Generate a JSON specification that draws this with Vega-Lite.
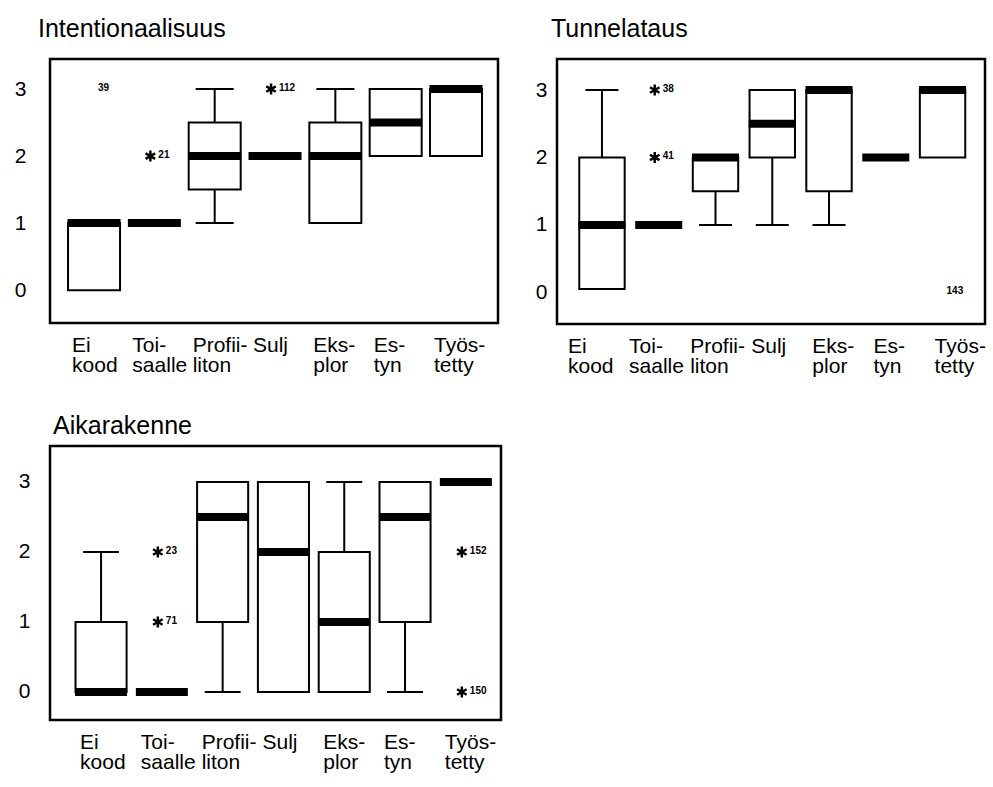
{
  "$schema": "https://vega.github.io/schema/vega-lite/v6.json",
  "padding": {"left": 13, "top": 15, "right": 0, "bottom": 0},
  "background": "white",
  "config": {
    "font": "Liberation Sans",
    "view": {"stroke": "black", "strokeWidth": 2.5},
    "axis": {"labelFont": "Liberation Sans", "labelColor": "black", "labelFontSize": 21, "domain": false, "ticks": false, "grid": false},
    "title": {"font": "Liberation Sans", "fontSize": 25, "fontWeight": "normal", "anchor": "start", "frame": "group", "color": "black", "baseline": "alphabetic"}
  },
  "datasets": {
    "boxes": [
      {"panel": "Intentionaalisuus", "cat": "Ei kood", "lo": null, "q1": 0, "med": 1, "q3": 1, "hi": null},
      {"panel": "Intentionaalisuus", "cat": "Toi- saalle", "lo": null, "q1": 1, "med": 1, "q3": 1, "hi": null},
      {"panel": "Intentionaalisuus", "cat": "Profii- liton", "lo": 1, "q1": 1.5, "med": 2, "q3": 2.5, "hi": 3},
      {"panel": "Intentionaalisuus", "cat": "Sulj", "lo": null, "q1": 2, "med": 2, "q3": 2, "hi": null},
      {"panel": "Intentionaalisuus", "cat": "Eks- plor", "lo": null, "q1": 1, "med": 2, "q3": 2.5, "hi": 3},
      {"panel": "Intentionaalisuus", "cat": "Es- tyn", "lo": null, "q1": 2, "med": 2.5, "q3": 3, "hi": null},
      {"panel": "Intentionaalisuus", "cat": "Työs- tetty", "lo": null, "q1": 2, "med": 3, "q3": 3, "hi": null},
      {"panel": "Tunnelataus", "cat": "Ei kood", "lo": null, "q1": 0.05, "med": 1, "q3": 2, "hi": 3},
      {"panel": "Tunnelataus", "cat": "Toi- saalle", "lo": null, "q1": 1, "med": 1, "q3": 1, "hi": null},
      {"panel": "Tunnelataus", "cat": "Profii- liton", "lo": 1, "q1": 1.5, "med": 2, "q3": 2, "hi": null},
      {"panel": "Tunnelataus", "cat": "Sulj", "lo": 1, "q1": 2, "med": 2.5, "q3": 3, "hi": null},
      {"panel": "Tunnelataus", "cat": "Eks- plor", "lo": 1, "q1": 1.5, "med": 3, "q3": 3, "hi": null},
      {"panel": "Tunnelataus", "cat": "Es- tyn", "lo": null, "q1": 2, "med": 2, "q3": 2, "hi": null},
      {"panel": "Tunnelataus", "cat": "Työs- tetty", "lo": null, "q1": 2, "med": 3, "q3": 3, "hi": null},
      {"panel": "Aikarakenne", "cat": "Ei kood", "lo": null, "q1": 0, "med": 0, "q3": 1, "hi": 2},
      {"panel": "Aikarakenne", "cat": "Toi- saalle", "lo": null, "q1": 0, "med": 0, "q3": 0, "hi": null},
      {"panel": "Aikarakenne", "cat": "Profii- liton", "lo": 0, "q1": 1, "med": 2.5, "q3": 3, "hi": null},
      {"panel": "Aikarakenne", "cat": "Sulj", "lo": null, "q1": 0, "med": 2, "q3": 3, "hi": null},
      {"panel": "Aikarakenne", "cat": "Eks- plor", "lo": null, "q1": 0, "med": 1, "q3": 2, "hi": 3},
      {"panel": "Aikarakenne", "cat": "Es- tyn", "lo": 0, "q1": 1, "med": 2.5, "q3": 3, "hi": null},
      {"panel": "Aikarakenne", "cat": "Työs- tetty", "lo": null, "q1": 3, "med": 3, "q3": 3, "hi": null}
    ],
    "outliers": [
      {"panel": "Intentionaalisuus", "cat": "Ei kood", "value": 3, "id": "39", "star": false},
      {"panel": "Intentionaalisuus", "cat": "Toi- saalle", "value": 2, "id": "21", "star": true},
      {"panel": "Intentionaalisuus", "cat": "Sulj", "value": 3, "id": "112", "star": true},
      {"panel": "Tunnelataus", "cat": "Toi- saalle", "value": 3, "id": "38", "star": true},
      {"panel": "Tunnelataus", "cat": "Toi- saalle", "value": 2, "id": "41", "star": true},
      {"panel": "Tunnelataus", "cat": "Työs- tetty", "value": 0, "id": "143", "star": false},
      {"panel": "Aikarakenne", "cat": "Toi- saalle", "value": 2, "id": "23", "star": true},
      {"panel": "Aikarakenne", "cat": "Toi- saalle", "value": 1, "id": "71", "star": true},
      {"panel": "Aikarakenne", "cat": "Työs- tetty", "value": 2, "id": "152", "star": true},
      {"panel": "Aikarakenne", "cat": "Työs- tetty", "value": 0, "id": "150", "star": true}
    ]
  },
  "spacing": 34,
  "vconcat": [
    {
      "spacing": 34,
      "hconcat": [
        {
          "title": {"text": "Intentionaalisuus", "dx": -12, "offset": 17},
          "width": 448, "height": 264,
          "encoding": {
            "x": {"field": "cat", "type": "nominal", "title": null,
              "scale": {"domain": ["Ei kood", "Toi- saalle", "Profii- liton", "Sulj", "Eks- plor", "Es- tyn", "Työs- tetty"], "paddingInner": 0.138, "paddingOuter": 0.282, "align": 0.53},
              "axis": {"labelAngle": 0, "labelAlign": "left", "labelOffset": -22, "labelBaseline": "top", "labelPadding": 11, "labelLineHeight": 20, "labelExpr": "split(datum.label, ' ')", "labelOverlap": false, "labelBound": false, "labelFlush": false}}
          },
          "layer": [
            {
              "data": {"name": "boxes"},
              "transform": [{"filter": "datum.panel === 'Intentionaalisuus'"}],
              "layer": [
                {"mark": {"type": "rule", "color": "black", "strokeWidth": 2, "opacity": 1},
                 "encoding": {"y": {"field": "lo", "type": "quantitative", "title": null, "scale": {"domain": [-0.49, 3.448], "nice": false, "zero": false}, "axis": {"values": [0, 1, 2, 3], "format": "d", "labelPadding": 24, "title": null}}, "y2": {"field": "q1"}}},
                {"mark": {"type": "rule", "color": "black", "strokeWidth": 2, "opacity": 1},
                 "encoding": {"y": {"field": "q3", "type": "quantitative", "title": null, "scale": {"domain": [-0.49, 3.448], "nice": false, "zero": false}}, "y2": {"field": "hi"}}},
                {"mark": {"type": "tick", "color": "black", "thickness": 2, "size": 38, "opacity": 1},
                 "encoding": {"y": {"field": "lo", "type": "quantitative", "title": null, "scale": {"domain": [-0.49, 3.448], "nice": false, "zero": false}}}},
                {"mark": {"type": "tick", "color": "black", "thickness": 2, "size": 38, "opacity": 1},
                 "encoding": {"y": {"field": "hi", "type": "quantitative", "title": null, "scale": {"domain": [-0.49, 3.448], "nice": false, "zero": false}}}},
                {"mark": {"type": "bar", "fill": "white", "stroke": "black", "strokeWidth": 2, "opacity": 1},
                 "encoding": {"y": {"field": "q1", "type": "quantitative", "title": null, "scale": {"domain": [-0.49, 3.448], "nice": false, "zero": false}}, "y2": {"field": "q3"}}},
                {"mark": {"type": "tick", "color": "black", "thickness": 8, "size": 53, "opacity": 1},
                 "encoding": {"y": {"field": "med", "type": "quantitative", "title": null, "scale": {"domain": [-0.49, 3.448], "nice": false, "zero": false}}}}
              ]
            },
            {
              "data": {"name": "outliers"},
              "transform": [{"filter": "datum.panel === 'Intentionaalisuus'"}],
              "layer": [
                {"transform": [{"filter": "datum.star"}],
                 "mark": {"type": "point", "shape": "M0,-1L0,1M-0.87,-0.5L0.87,0.5M-0.87,0.5L0.87,-0.5", "filled": false, "stroke": "black", "strokeWidth": 2.5, "size": 120, "xOffset": -4, "opacity": 1},
                 "encoding": {"y": {"field": "value", "type": "quantitative", "title": null, "scale": {"domain": [-0.49, 3.448], "nice": false, "zero": false}}}},
                {"mark": {"type": "text", "align": "left", "baseline": "middle", "dx": 4, "dy": -1, "fontSize": 10, "fontWeight": "bold", "color": "black"},
                 "encoding": {"y": {"field": "value", "type": "quantitative", "title": null, "scale": {"domain": [-0.49, 3.448], "nice": false, "zero": false}}, "text": {"field": "id"}}}
              ]
            }
          ]
        },
        {
          "title": {"text": "Tunnelataus", "dx": -6, "offset": 17},
          "width": 428, "height": 265,
          "encoding": {
            "x": {"field": "cat", "type": "nominal", "title": null,
              "scale": {"domain": ["Ei kood", "Toi- saalle", "Profii- liton", "Sulj", "Eks- plor", "Es- tyn", "Työs- tetty"], "paddingInner": 0.2, "paddingOuter": 0.37, "align": 0.53},
              "axis": {"labelAngle": 0, "labelAlign": "left", "labelOffset": {"condition": {"test": "true", "expr": "-34 + 26 * datum.index"}, "value": -20}, "labelBaseline": "top", "labelPadding": 11, "labelLineHeight": 20, "labelExpr": "split(datum.label, ' ')", "labelOverlap": false, "labelBound": false, "labelFlush": false}}
          },
          "layer": [
            {
              "data": {"name": "boxes"},
              "transform": [{"filter": "datum.panel === 'Tunnelataus'"}],
              "layer": [
                {"mark": {"type": "rule", "color": "black", "strokeWidth": 2, "opacity": 1},
                 "encoding": {"y": {"field": "lo", "type": "quantitative", "title": null, "scale": {"domain": [-0.47, 3.46], "nice": false, "zero": false}, "axis": {"values": [0, 1, 2, 3], "format": "d", "labelPadding": 10, "title": null}}, "y2": {"field": "q1"}}},
                {"mark": {"type": "rule", "color": "black", "strokeWidth": 2, "opacity": 1},
                 "encoding": {"y": {"field": "q3", "type": "quantitative", "title": null, "scale": {"domain": [-0.47, 3.46], "nice": false, "zero": false}}, "y2": {"field": "hi"}}},
                {"mark": {"type": "tick", "color": "black", "thickness": 2, "size": 33, "opacity": 1},
                 "encoding": {"y": {"field": "lo", "type": "quantitative", "title": null, "scale": {"domain": [-0.47, 3.46], "nice": false, "zero": false}}}},
                {"mark": {"type": "tick", "color": "black", "thickness": 2, "size": 33, "opacity": 1},
                 "encoding": {"y": {"field": "hi", "type": "quantitative", "title": null, "scale": {"domain": [-0.47, 3.46], "nice": false, "zero": false}}}},
                {"mark": {"type": "bar", "fill": "white", "stroke": "black", "strokeWidth": 2, "opacity": 1},
                 "encoding": {"y": {"field": "q1", "type": "quantitative", "title": null, "scale": {"domain": [-0.47, 3.46], "nice": false, "zero": false}}, "y2": {"field": "q3"}}},
                {"mark": {"type": "tick", "color": "black", "thickness": 8, "size": 47, "opacity": 1},
                 "encoding": {"y": {"field": "med", "type": "quantitative", "title": null, "scale": {"domain": [-0.47, 3.46], "nice": false, "zero": false}}}}
              ]
            },
            {
              "data": {"name": "outliers"},
              "transform": [{"filter": "datum.panel === 'Tunnelataus'"}],
              "layer": [
                {"transform": [{"filter": "datum.star"}],
                 "mark": {"type": "point", "shape": "M0,-1L0,1M-0.87,-0.5L0.87,0.5M-0.87,0.5L0.87,-0.5", "filled": false, "stroke": "black", "strokeWidth": 2.5, "size": 120, "xOffset": -4, "opacity": 1},
                 "encoding": {"y": {"field": "value", "type": "quantitative", "title": null, "scale": {"domain": [-0.47, 3.46], "nice": false, "zero": false}}}},
                {"mark": {"type": "text", "align": "left", "baseline": "middle", "dx": 4, "dy": -1, "fontSize": 10, "fontWeight": "bold", "color": "black"},
                 "encoding": {"y": {"field": "value", "type": "quantitative", "title": null, "scale": {"domain": [-0.47, 3.46], "nice": false, "zero": false}}, "text": {"field": "id"}}}
              ]
            }
          ]
        }
      ]
    },
    {
      "title": {"text": "Aikarakenne", "dx": 3, "offset": 7},
      "width": 451, "height": 274,
      "encoding": {
        "x": {"field": "cat", "type": "nominal", "title": null,
          "scale": {"domain": ["Ei kood", "Toi- saalle", "Profii- liton", "Sulj", "Eks- plor", "Es- tyn", "Työs- tetty"], "paddingInner": 0.16, "paddingOuter": 0.289, "align": 0.726},
          "axis": {"labelAngle": 0, "labelAlign": "left", "labelOffset": -21, "labelBaseline": "top", "labelPadding": 11, "labelLineHeight": 20, "labelExpr": "split(datum.label, ' ')", "labelOverlap": false, "labelBound": false, "labelFlush": false}}
      },
      "layer": [
        {
          "data": {"name": "boxes"},
          "transform": [{"filter": "datum.panel === 'Aikarakenne'"}],
          "layer": [
            {"mark": {"type": "rule", "color": "black", "strokeWidth": 2, "opacity": 1},
             "encoding": {"y": {"field": "lo", "type": "quantitative", "title": null, "scale": {"domain": [-0.4, 3.514], "nice": false, "zero": false}, "axis": {"values": [0, 1, 2, 3], "format": "d", "labelPadding": 20, "title": null}}, "y2": {"field": "q1"}}},
            {"mark": {"type": "rule", "color": "black", "strokeWidth": 2, "opacity": 1},
             "encoding": {"y": {"field": "q3", "type": "quantitative", "title": null, "scale": {"domain": [-0.4, 3.514], "nice": false, "zero": false}}, "y2": {"field": "hi"}}},
            {"mark": {"type": "tick", "color": "black", "thickness": 2, "size": 36, "opacity": 1},
             "encoding": {"y": {"field": "lo", "type": "quantitative", "title": null, "scale": {"domain": [-0.4, 3.514], "nice": false, "zero": false}}}},
            {"mark": {"type": "tick", "color": "black", "thickness": 2, "size": 36, "opacity": 1},
             "encoding": {"y": {"field": "hi", "type": "quantitative", "title": null, "scale": {"domain": [-0.4, 3.514], "nice": false, "zero": false}}}},
            {"mark": {"type": "bar", "fill": "white", "stroke": "black", "strokeWidth": 2, "opacity": 1},
             "encoding": {"y": {"field": "q1", "type": "quantitative", "title": null, "scale": {"domain": [-0.4, 3.514], "nice": false, "zero": false}}, "y2": {"field": "q3"}}},
            {"mark": {"type": "tick", "color": "black", "thickness": 8, "size": 52, "opacity": 1},
             "encoding": {"y": {"field": "med", "type": "quantitative", "title": null, "scale": {"domain": [-0.4, 3.514], "nice": false, "zero": false}}}}
          ]
        },
        {
          "data": {"name": "outliers"},
          "transform": [{"filter": "datum.panel === 'Aikarakenne'"}],
          "layer": [
            {"transform": [{"filter": "datum.star"}],
             "mark": {"type": "point", "shape": "M0,-1L0,1M-0.87,-0.5L0.87,0.5M-0.87,0.5L0.87,-0.5", "filled": false, "stroke": "black", "strokeWidth": 2.5, "size": 120, "xOffset": -4, "opacity": 1},
             "encoding": {"y": {"field": "value", "type": "quantitative", "title": null, "scale": {"domain": [-0.4, 3.514], "nice": false, "zero": false}}}},
            {"mark": {"type": "text", "align": "left", "baseline": "middle", "dx": 4, "dy": -1, "fontSize": 10, "fontWeight": "bold", "color": "black"},
             "encoding": {"y": {"field": "value", "type": "quantitative", "title": null, "scale": {"domain": [-0.4, 3.514], "nice": false, "zero": false}}, "text": {"field": "id"}}}
          ]
        }
      ]
    }
  ]
}
